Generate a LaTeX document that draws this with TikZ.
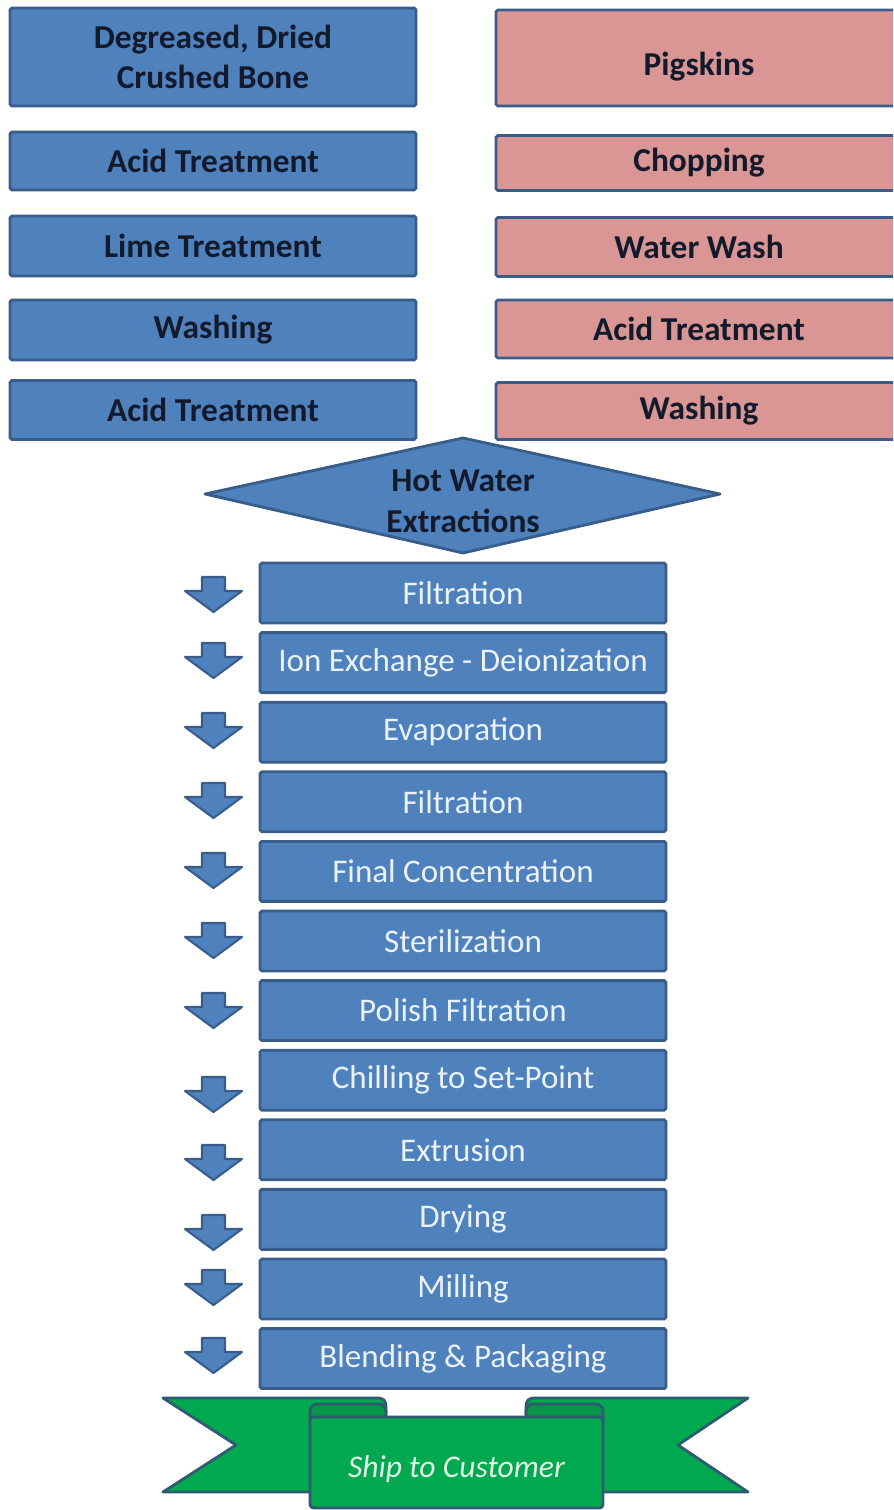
\documentclass[tikz,border=0pt]{standalone}
\usepackage{fontspec}
\setmainfont{Carlito}
\usetikzlibrary{positioning}

\definecolor{boxblue}{HTML}{4F81BD}
\definecolor{edgeblue}{HTML}{385D8A}
\definecolor{skinpink}{HTML}{D99694}
\definecolor{ribbongreen}{HTML}{00A94F}
\definecolor{folddark}{HTML}{079447}
\definecolor{ribbonedge}{HTML}{2E5B70}
\definecolor{inkdark}{HTML}{131A2B}
\definecolor{inklight}{HTML}{EAF2FB}
\definecolor{inkgreen}{HTML}{E2F4E6}

\begin{document}
\begin{tikzpicture}[x=0.02cm, y=-0.02cm,
    bonebox/.style={draw=edgeblue, line width=1.6pt, fill=boxblue, rounded corners=1pt,
      minimum width=8.12cm, text=inkdark, align=center,
      font=\bfseries\fontsize{19}{22.8}\selectfont},
    skinbox/.style={bonebox, fill=skinpink},
    stepbox/.style={draw=edgeblue, line width=1.6pt, fill=boxblue, rounded corners=1pt,
      minimum width=8.12cm, minimum height=1.2cm, text=inklight,
      font=\fontsize{18.8}{22.8}\selectfont},
    downarrow/.style={draw=edgeblue, line width=1.2pt, fill=boxblue, line join=round},
    ribbon/.style={draw=ribbonedge, line width=1.6pt, fill=ribbongreen, line join=round}]
        \useasboundingbox (0,0) rectangle (893,1510);
        %%%BONE ROUTE%%%
        \node[bonebox, minimum height=1.96cm] (bone) at (213,57) {Degreased, Dried\\Crushed Bone};
        \node[bonebox, minimum height=1.16cm] (acidA) at (213,161) {Acid Treatment};
        \node[bonebox, minimum height=1.2cm] (lime) at (213,246) {Lime Treatment};
        \node[bonebox, minimum height=1.2cm] (washA) at (213,330) {Washing};
        \node[bonebox, minimum height=1.18cm] (acidB) at (213,410) {Acid Treatment};
        %%%PIGSKIN ROUTE%%%
        \begin{scope}
        \clip (0,0) rectangle (893,1510);
        \node[skinbox, minimum height=1.92cm] (skins) at (699,58) {\raisebox{-5pt}[\height][\depth]{Pigskins}};
        \node[skinbox, minimum height=1.1cm] (chop) at (699,163) {Chopping};
        \node[skinbox, minimum height=1.18cm] (wash) at (699,247) {Water Wash};
        \node[skinbox, minimum height=1.16cm] (acidC) at (699,329) {Acid Treatment};
        \node[skinbox, minimum height=1.14cm] (washB) at (699,411) {Washing};
        \end{scope}
        %diamond
        \draw[downarrow, line width=1.6pt] (463,438) -- (720,494) -- (463,553) -- (205,494) -- cycle;
        \node[text=inkdark, align=center, font=\bfseries\fontsize{19}{23.5}\selectfont] (hot) at (463,501) {Hot Water\\Extractions};
        %%%PROCESS STEPS%%%
        \node[stepbox] (filtA) at (463,593) {Filtration};
        \node[stepbox, below=0.136cm of filtA] (ion) {Ion Exchange - Deionization};
        \node[stepbox, below=0.136cm of ion] (evap) {Evaporation};
        \node[stepbox, below=0.136cm of evap] (filtB) {Filtration};
        \node[stepbox, below=0.136cm of filtB] (conc) {Final Concentration};
        \node[stepbox, below=0.136cm of conc] (steril) {Sterilization};
        \node[stepbox, below=0.136cm of steril] (polish) {Polish Filtration};
        \node[stepbox, below=0.136cm of polish] (chill) {Chilling to Set-Point};
        \node[stepbox, below=0.136cm of chill] (extr) {Extrusion};
        \node[stepbox, below=0.136cm of extr] (dry) {Drying};
        \node[stepbox, below=0.136cm of dry] (mill) {Milling};
        \node[stepbox, below=0.136cm of mill] (blend) {Blending \& Packaging};
        %block arrows
        \foreach \t in {577,643,713,783,853,923,993,1077,1145,1215,1270,1338}
          \draw[downarrow] (202,\t) -- (225,\t) -- (225,\t+14) -- (242,\t+14)
            -- (213.5,\t+35) -- (185,\t+14) -- (202,\t+14) -- cycle;
        %%%RIBBON%%%
        %back ends
        \draw[ribbon] (163,1398) -- (376,1398) .. controls (384,1398) and (386,1400) .. (386,1408)
          -- (386,1492) -- (163,1492) -- (236,1445) -- cycle;
        \draw[ribbon] (748,1398) -- (536,1398) .. controls (528,1398) and (526,1400) .. (526,1408)
          -- (526,1492) -- (748,1492) -- (678,1445) -- cycle;
        %folds
        \draw[ribbon, fill=folddark, rounded corners=4pt] (310,1404) rectangle (386,1428);
        \draw[ribbon, fill=folddark, rounded corners=4pt] (526,1404) rectangle (603,1428);
        %front
        \node[ribbon, rounded corners=2pt, minimum width=5.86cm, minimum height=1.82cm,
          text=inkgreen, font=\itshape\fontsize{18}{22.8}\selectfont] (ship) at (456.5,1462.5) {\raisebox{-4pt}[\height][\depth]{Ship to Customer}};
\end{tikzpicture}
\end{document}
